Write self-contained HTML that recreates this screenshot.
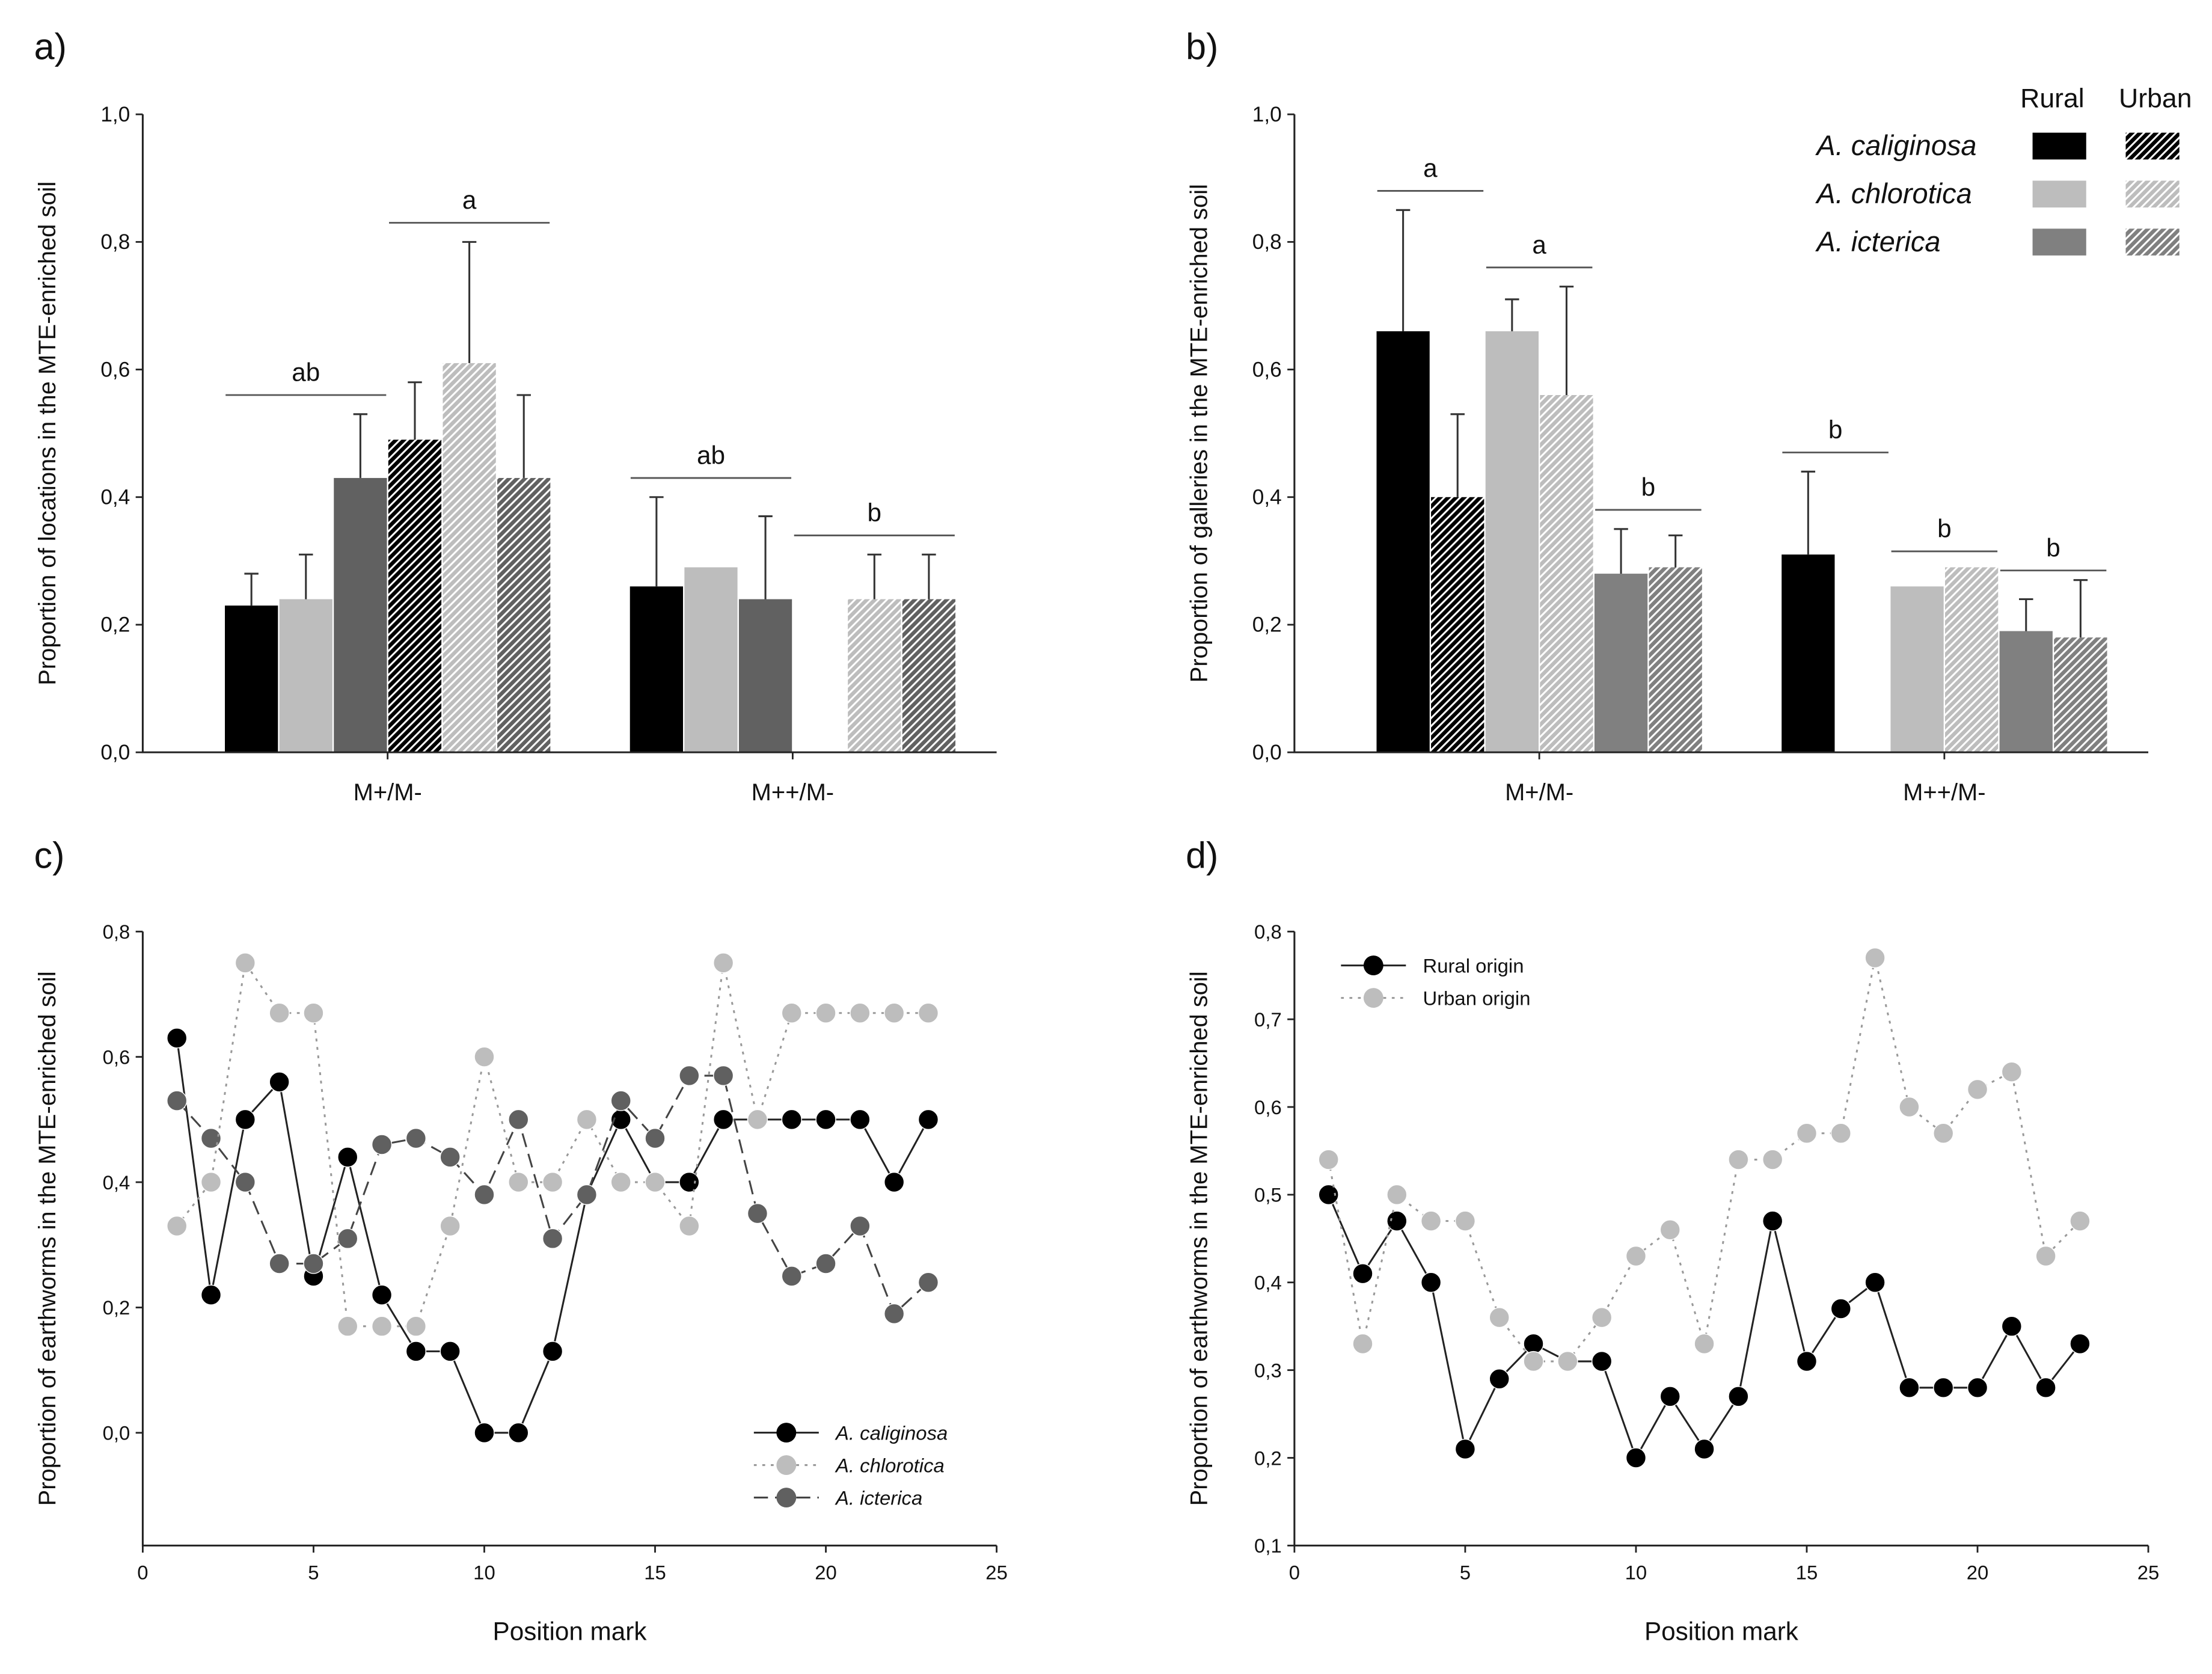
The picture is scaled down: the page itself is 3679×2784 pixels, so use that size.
<!DOCTYPE html>
<html><head><meta charset="utf-8"><style>
html,body{margin:0;padding:0;background:#fff;}
svg{display:block;font-family:"Liberation Sans",Arial,sans-serif;}
</style></head><body>
<svg id="fig" width="3679" height="2784" viewBox="0 0 1567 1186" xmlns="http://www.w3.org/2000/svg">
<defs>
<pattern id="h0" patternUnits="userSpaceOnUse" width="4" height="4" patternTransform="rotate(45)"><rect width="4" height="4" fill="#000"/><rect x="0" width="1.3" height="4" fill="#fff"/></pattern>
<pattern id="h1" patternUnits="userSpaceOnUse" width="4" height="4" patternTransform="rotate(45)"><rect width="4" height="4" fill="#bdbdbd"/><rect x="0" width="1.3" height="4" fill="#fff"/></pattern>
<pattern id="h2a" patternUnits="userSpaceOnUse" width="4" height="4" patternTransform="rotate(45)"><rect width="4" height="4" fill="#616161"/><rect x="0" width="1.3" height="4" fill="#fff"/></pattern>
<pattern id="h2b" patternUnits="userSpaceOnUse" width="4" height="4" patternTransform="rotate(45)"><rect width="4" height="4" fill="#808080"/><rect x="0" width="1.3" height="4" fill="#fff"/></pattern>
</defs>
</svg>
<script>
// Panel a data (order: calig R, chlor R, icter R, calig U, chlor U, icter U)
const aCats = ["M+/M-","M++/M-"];
const aVals1 = [0.23,0.24,0.43,0.49,0.61,0.43];
const aErr1  = [0.28,0.31,0.53,0.58,0.80,0.56];
const aVals2 = [0.26,0.29,0.24,null,0.24,0.24];
const aErr2  = [0.40,null,0.37,null,0.31,0.31];
const aSig = [[0,0,2,0.56,"ab"],[0,3,5,0.83,"a"],[1,0,2,0.43,"ab"],[1,3,5,0.34,"b"]];
// Panel b data (order: calig R, calig U, chlor R, chlor U, icter R, icter U)
const bVals1 = [0.66,0.40,0.66,0.56,0.28,0.29];
const bErr1  = [0.85,0.53,0.71,0.73,0.35,0.34];
const bVals2 = [0.31,null,0.26,0.29,0.19,0.18];
const bErr2  = [0.44,null,null,null,0.24,0.27];
const bSig = [[0,0,1,0.88,"a"],[0,2,3,0.76,"a"],[0,4,5,0.38,"b"],[1,0,1,0.47,"b"],[1,2,3,0.315,"b"],[1,4,5,0.285,"b"]];
const barTicks = [0,0.2,0.4,0.6,0.8,1.0];
const barTickLabels = ["0,0","0,2","0,4","0,6","0,8","1,0"];
// Panel c data
const cX = [1,2,3,4,5,6,7,8,9,10,11,12,13,14,15,16,17,18,19,20,21,22,23];
const cCalig = [0.63,0.22,0.50,0.56,0.25,0.44,0.22,0.13,0.13,0.00,0.00,0.13,0.38,0.50,0.40,0.40,0.50,0.50,0.50,0.50,0.50,0.40,0.50];
const cChlor = [0.33,0.40,0.75,0.67,0.67,0.17,0.17,0.17,0.33,0.60,0.40,0.40,0.50,0.40,0.40,0.33,0.75,0.50,0.67,0.67,0.67,0.67,0.67];
const cIcter = [0.53,0.47,0.40,0.27,0.27,0.31,0.46,0.47,0.44,0.38,0.50,0.31,0.38,0.53,0.47,0.57,0.57,0.35,0.25,0.27,0.33,0.19,0.24];
const cTicks = [0.0,0.2,0.4,0.6,0.8];
const cTickLabels = ["0,0","0,2","0,4","0,6","0,8"];
// Panel d data
const dRural = [0.50,0.41,0.47,0.40,0.21,0.29,0.33,0.31,0.31,0.20,0.27,0.21,0.27,0.47,0.31,0.37,0.40,0.28,0.28,0.28,0.35,0.28,0.33];
const dUrban = [0.54,0.33,0.50,0.47,0.47,0.36,0.31,0.31,0.36,0.43,0.46,0.33,0.54,0.54,0.57,0.57,0.77,0.60,0.57,0.62,0.64,0.43,0.47];
const dTicks = [0.1,0.2,0.3,0.4,0.5,0.6,0.7,0.8];
const dTickLabels = ["0,1","0,2","0,3","0,4","0,5","0,6","0,7","0,8"];
const xTicks = [0,5,10,15,20,25];

const svg = document.getElementById('fig');
const NS = "http://www.w3.org/2000/svg";
function mk(tag, attrs, parent, text){
  const e = document.createElementNS(NS, tag);
  for (const k in attrs) e.setAttribute(k, attrs[k]);
  if (text !== undefined) e.textContent = text;
  (parent||svg).appendChild(e);
  return e;
}
function txt(x,y,s,size,anchor,parent,extra){
  const a = Object.assign({x:x,y:y,'font-size':size,'text-anchor':anchor||'middle',fill:'#111'}, extra||{});
  return mk('text',a,parent,s);
}

function barPanel(name, ox, fills, vals1, err1, vals2, err2, sig, ytitle, letter){
  const g = mk('g',{});
  
  
  const x0 = ox, x1 = ox + 605, yTop = 81, yBot = 533;
  const ys = v => yBot - v*(yBot-yTop);
  const centers = [ox+173.5, ox+460.5];
  const bw = 38.6;
  const lt = txt(ox-77, 42, letter, 26, 'start', g);
  
  
  [[vals1,err1],[vals2,err2]].forEach((grp,gi)=>{
    grp[0].forEach((v,i)=>{
      if (v===null) return;
      const bx = centers[gi] - 3*bw + i*bw;
      const r = mk('rect',{x:bx+0.5,y:ys(v),width:bw-1,height:ys(0)-ys(v),fill:fills[i]},g);
      
      
      const e = grp[1][i];
      if (e!==null){
        const cx = bx + bw/2;
        const l = mk('path',{d:`M${cx},${ys(v)}V${ys(e)}M${cx-5},${ys(e)}H${cx+5}`,stroke:'#333','stroke-width':1.3,fill:'none'},g);
        
        
      }
    });
  });
  sig.forEach(s=>{
    const xa = centers[s[0]] - 3*bw + s[1]*bw + 1, xb = centers[s[0]] - 3*bw + (s[2]+1)*bw - 1;
    const l = mk('line',{x1:xa,x2:xb,y1:ys(s[3]),y2:ys(s[3]),stroke:'#555','stroke-width':1.2},g);
    
    
    const t = txt((xa+xb)/2, ys(s[3])-10, s[4], 18, 'middle', g);
    
    
  });
  mk('path',{d:`M${x0},${yTop}V${yBot}H${x1}`,stroke:'#222','stroke-width':1.3,fill:'none'},g);
  barTicks.forEach((t,i)=>{
    mk('line',{x1:x0-5,x2:x0,y1:ys(t),y2:ys(t),stroke:'#222','stroke-width':1.2},g);
    const tl = txt(x0-9, ys(t)+5, barTickLabels[i], 15, 'end', g);
    
    
  });
  centers.forEach((c,i)=>{
    mk('line',{x1:c,x2:c,y1:yBot,y2:yBot+5,stroke:'#222','stroke-width':1.2},g);
    const tl = txt(c, yBot+34, aCats[i], 17, 'middle', g);
    
    
  });
  const yt = txt(0,0,ytitle,17,'middle',g,{transform:`translate(${ox-62},${(yTop+yBot)/2}) rotate(-90)`});
  
  
  return g;
}
barPanel('panel-a',101,['#000','#bdbdbd','#616161','url(#h0)','url(#h1)','url(#h2a)'],aVals1,aErr1,aVals2,aErr2,aSig,'Proportion of locations in the MTE-enriched soil','a)');
const gb = barPanel('panel-b',917,['#000','url(#h0)','#bdbdbd','url(#h1)','#808080','url(#h2b)'],bVals1,bErr1,bVals2,bErr2,bSig,'Proportion of galleries in the MTE-enriched soil','b)');

// legend b
const lg = mk('g',{},gb);


txt(1454,76,'Rural',19,'middle',lg);
txt(1527,76,'Urban',19,'middle',lg);
const spp = ['A. caliginosa','A. chlorotica','A. icterica'];
const lr = ['#000','#bdbdbd','#808080'], lu = ['url(#h0)','url(#h1)','url(#h2b)'];
const lx = [1425,1418,1393];
spp.forEach((s,i)=>{
  const y = 103 + i*34;
  const t = txt(1287,y+7,s,20,'start',lg,{'font-style':'italic'});
  
  
  mk('rect',{x:1440,y:y-9,width:38,height:19,fill:lr[i]},lg);
  mk('rect',{x:1506,y:y-9,width:38,height:19,fill:lu[i]},lg);
});

function linePanel(name, ox, yMin, yMax, ticks, tickLabels, series, ytitle, letter, legend){
  const g = mk('g',{});
  
  
  const x0 = ox, x1 = ox + 605, yTop = 660, yBot = 1095;
  const ys = v => yBot - (v-yMin)/(yMax-yMin)*(yBot-yTop);
  const xs = v => x0 + v/25*(x1-x0);
  const lt = txt(ox-77, 615, letter, 26, 'start', g);
  
  
  series.forEach(s=>{
    const d = s.vals.map((v,i)=>(i?'L':'M')+xs(cX[i])+','+ys(v)).join('');
    const p = mk('path',{d:d,stroke:s.line,'stroke-width':1.3,fill:'none','stroke-dasharray':s.dash},g);
    
    
    s.vals.forEach((v,i)=>{
      const c = mk('circle',{cx:xs(cX[i]),cy:ys(v),r:7,fill:s.fill,stroke:'#fff','stroke-width':0.6},g);
      
      
    });
  });
  mk('path',{d:`M${x0},${yTop}V${yBot}H${x1}`,stroke:'#222','stroke-width':1.3,fill:'none'},g);
  ticks.forEach((t,i)=>{
    mk('line',{x1:x0-5,x2:x0,y1:ys(t),y2:ys(t),stroke:'#222','stroke-width':1.2},g);
    const tl = txt(x0-9, ys(t)+5, tickLabels[i], 14, 'end', g);
    
    
  });
  xTicks.forEach(t=>{
    mk('line',{x1:xs(t),x2:xs(t),y1:yBot,y2:yBot+5,stroke:'#222','stroke-width':1.2},g);
    const tl = txt(xs(t), yBot+24, String(t), 14, 'middle', g);
    
    
  });
  const xt = txt((x0+x1)/2, yBot+67, 'Position mark', 18, 'middle', g);
  
  
  const yt = txt(0,0,ytitle,17,'middle',g,{transform:`translate(${ox-62},${(yTop+yBot)/2}) rotate(-90)`});
  
  
  const lgd = mk('g',{},g);
  
  
  series.slice().sort((a,b)=>a.lo-b.lo).forEach((s,i)=>{
    const y = legend.y + i*legend.dy;
    mk('line',{x1:legend.x,x2:legend.x+46,y1:y,y2:y,stroke:s.line,'stroke-width':1.3,'stroke-dasharray':s.dash},lgd);
    mk('circle',{cx:legend.x+23,cy:y,r:7,fill:s.fill},lgd);
    const t = txt(legend.x+58,y+5,s.label,14,'start',lgd,s.italic?{'font-style':'italic'}:{});
    
    
  });
}
linePanel('panel-c',101,-0.18,0.8,cTicks,cTickLabels,[
  {key:'caliginosa',vals:cCalig,fill:'#000',line:'#222',dash:'',label:'A. caliginosa',italic:true,lo:0},
  {key:'icterica',vals:cIcter,fill:'#606060',line:'#444',dash:'10,5',label:'A. icterica',italic:true,lo:2},
  {key:'chlorotica',vals:cChlor,fill:'#bdbdbd',line:'#999',dash:'2,4',label:'A. chlorotica',italic:true,lo:1}
],'Proportion of earthworms in the MTE-enriched soil','c)',{x:534,y:1015,dy:23});
linePanel('panel-d',917,0.1,0.8,dTicks,dTickLabels,[
  {key:'rural',vals:dRural,fill:'#000',line:'#222',dash:'',label:'Rural origin',lo:0},
  {key:'urban',vals:dUrban,fill:'#bdbdbd',line:'#999',dash:'2,4',label:'Urban origin',lo:1}
],'Proportion of earthworms in the MTE-enriched soil','d)',{x:950,y:684,dy:23});
</script>
</body></html>
